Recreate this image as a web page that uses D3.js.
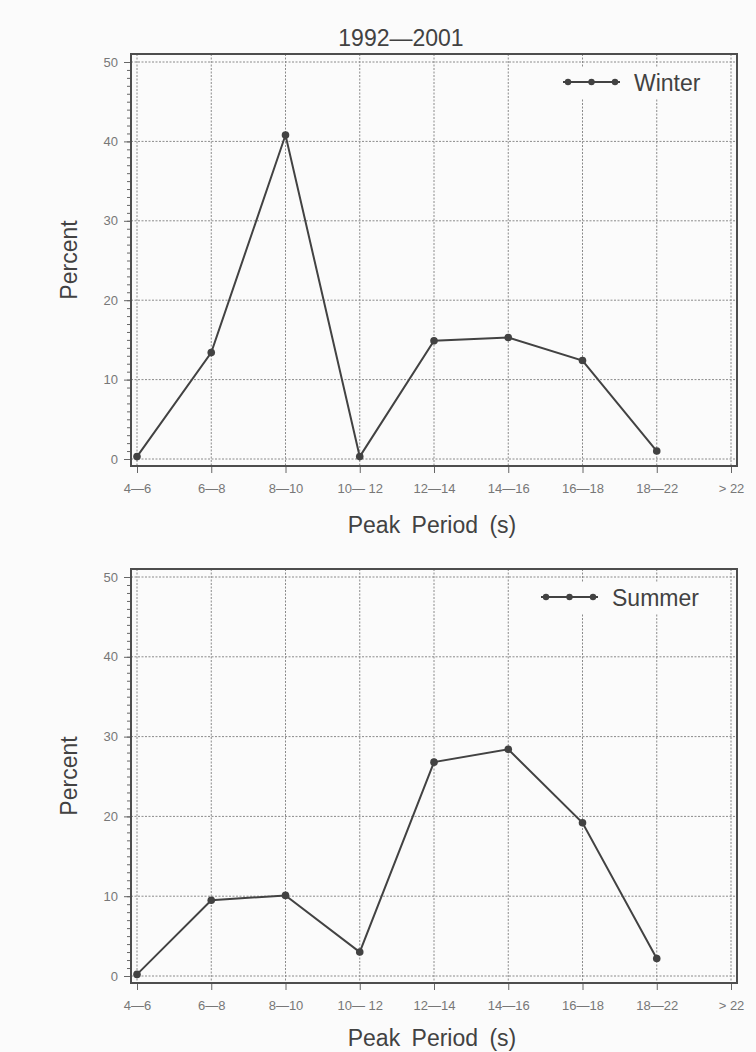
<!DOCTYPE html>
<html>
<head>
<meta charset="utf-8">
<script src="https://cdn.jsdelivr.net/npm/d3@7/dist/d3.min.js"></script>
<style>
  body { margin: 0; background: #fbfbfb; }
  svg { display: block; font-family: "Liberation Sans", Arial, Helvetica, sans-serif; }
  .grid line { stroke: #8a8a8a; stroke-width: 1; stroke-dasharray: 2,1.5; }
  .ytick text, .xtick text { fill: #777; }
  .ytick path, .xtick path, .minor path { display: none; }
  .ytick line, .xtick line, .minor line { stroke: #666; }
</style>
</head>
<body>
<div id="chart"></div>
<script>
// peak period bins and percentages
var periods = ["4\u20146", "6\u20148", "8\u201410", "10\u2014 12", "12\u201414", "14\u201416", "16\u201418", "18\u201422", "> 22"];
var winter = [0.3, 13.4, 40.8, 0.3, 14.9, 15.3, 12.4, 1.0, null];
var summer = [0.2, 9.5, 10.1, 3.0, 26.8, 28.4, 19.2, 2.2, null];
var yTicks = [0, 10, 20, 30, 40, 50];
var minorTicks = d3.range(0, 51, 1);

var width = 756, height = 1052;
var inkColor = "#424242";

var svg = d3.select("#chart").append("svg")
    .attr("width", width)
    .attr("height", height);

var x = d3.scalePoint()
    .domain(periods)
    .range([137, 731]);

svg.append("text")
    .attr("x", 401)
    .attr("y", 46)
    .attr("text-anchor", "middle")
    .style("font-size", "23px")
    .style("fill", inkColor)
    .text("1992\u20142001");

drawPanel({ values: winter, name: "Winter", y0: 459, y50: 62, titleY: 533 });
drawPanel({ values: summer, name: "Summer", y0: 976, y50: 577, titleY: 1046 });

function drawPanel(p) {
    var y = d3.scaleLinear().domain([0, 50]).range([p.y0, p.y50]);
    var left = 131, right = 737;
    var top = p.y50 - 8, bottom = p.y0 + 7;

    var g = svg.append("g");

    // grid
    var grid = g.append("g").attr("class", "grid");
    grid.selectAll(".hg")
        .data(yTicks)
        .enter().append("line")
        .attr("x1", left).attr("x2", right)
        .attr("y1", d => y(d)).attr("y2", d => y(d));
    grid.selectAll(".vg")
        .data(periods)
        .enter().append("line")
        .attr("x1", d => x(d)).attr("x2", d => x(d))
        .attr("y1", top).attr("y2", bottom);

    // axes
    g.append("g")
        .attr("class", "minor")
        .attr("transform", "translate(" + left + ",0)")
        .call(d3.axisLeft(y).tickValues(minorTicks).tickSize(4).tickFormat(""));

    g.append("g")
        .attr("class", "ytick")
        .attr("transform", "translate(" + left + ",0)")
        .call(d3.axisLeft(y).tickValues(yTicks).tickSize(7).tickPadding(6))
        .selectAll("text")
        .style("font-size", "13px")
        .style("font-family", "inherit");

    g.append("g")
        .attr("class", "xtick")
        .attr("transform", "translate(0," + bottom + ")")
        .call(d3.axisBottom(x).tickSize(7).tickPadding(11))
        .selectAll("text")
        .style("font-size", "13px")
        .style("font-family", "inherit");

    // frame
    g.append("rect")
        .attr("x", left).attr("y", top)
        .attr("width", right - left).attr("height", bottom - top)
        .attr("fill", "none")
        .attr("stroke", "#4d4d4d")
        .attr("stroke-width", 2);

    // axis titles
    g.append("text")
        .attr("transform", "translate(77," + (top + bottom) / 2 + ") rotate(-90)")
        .attr("text-anchor", "middle")
        .style("font-size", "23px")
        .style("fill", inkColor)
        .text("Percent");

    g.append("text")
        .attr("x", 432)
        .attr("y", p.titleY)
        .attr("text-anchor", "middle")
        .style("font-size", "23px")
        .style("word-spacing", "5px")
        .style("fill", inkColor)
        .text("Peak Period (s)");

    // data line
    var pts = periods.map((d, i) => ({ cat: d, v: p.values[i] })).filter(d => d.v != null);

    var line = d3.line()
        .x(d => x(d.cat))
        .y(d => y(d.v));

    g.append("path")
        .datum(pts)
        .attr("fill", "none")
        .attr("stroke", inkColor)
        .attr("stroke-width", 2)
        .attr("d", line);

    g.selectAll(".dot")
        .data(pts)
        .enter().append("circle")
        .attr("cx", d => x(d.cat))
        .attr("cy", d => y(d.v))
        .attr("r", 3.8)
        .attr("fill", inkColor);

    // legend
    var ly = top + 28;
    var lx = p.name == "Winter" ? 563 : 541;
    var leg = g.append("g");
    leg.append("rect")
        .attr("x", lx - 8).attr("y", top + 13)
        .attr("width", 725 - lx + 8).attr("height", 31)
        .attr("fill", "#fbfbfb");
    leg.append("line")
        .attr("x1", lx).attr("x2", lx + 57)
        .attr("y1", ly).attr("y2", ly)
        .attr("stroke", inkColor)
        .attr("stroke-width", 2);
    leg.selectAll("circle")
        .data([0, 0.5, 1])
        .enter().append("circle")
        .attr("cx", d => lx + 5 + d * 47)
        .attr("cy", ly)
        .attr("r", 3.2)
        .attr("fill", inkColor);
    leg.append("text")
        .attr("x", lx + 71)
        .attr("y", ly + 9)
        .style("font-size", "23px")
        .style("fill", inkColor)
        .text(p.name);
}
</script>
</body>
</html>
